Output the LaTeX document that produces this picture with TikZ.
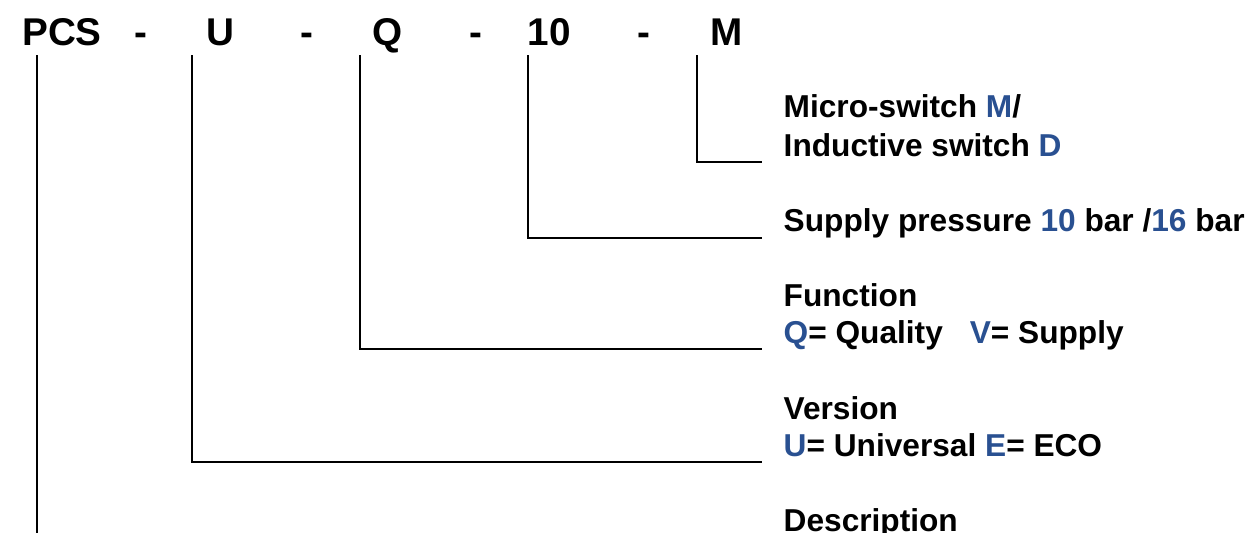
\documentclass[tikz,border=0pt]{standalone}
\usepackage{fontspec}
\setmainfont{Liberation Sans}
\definecolor{codeblue}{RGB}{41,80,145}
\begin{document}
\begin{tikzpicture}[x=0.01cm,y=-0.01cm,
  code/.style={anchor=base,inner sep=0,font=\fontsize{11}{13}\selectfont\bfseries},
  lbl/.style={anchor=base west,inner sep=0,font=\fontsize{9}{11}\selectfont\bfseries},
  conn/.style={line width=0.6pt}]
\useasboundingbox (0,0) rectangle (1252,532);
% code row
\node[code] (pcs) at (62,45) {PCS};
\node[code] (d1) at (141,45) {-};
\node[code] (u) at (220,45) {U};
\node[code] (d2) at (307,45) {-};
\node[code] (q) at (388,45) {Q};
\node[code] (d3) at (476,45) {-};
\node[code] (ten) at (549,45) {10};
\node[code] (d4) at (644,45) {-};
\node[code] (m) at (727,45) {M};
% labels
\node[lbl] (l1a) at (783,117) {Micro-switch \textcolor{codeblue}{M}/};
\node[lbl] (l1b) at (783,156) {Inductive switch \textcolor{codeblue}{D}};
\node[lbl] (l2) at (783,231) {Supply pressure \textcolor{codeblue}{10} bar /\textcolor{codeblue}{16} bar};
\node[lbl] (l3a) at (783,306) {Function};
\node[lbl] (l3b) at (783,343) {\textcolor{codeblue}{Q}= Quality\hspace{0.85em}\textcolor{codeblue}{V}= Supply};
\node[lbl] (l4a) at (783,419) {Version};
\node[lbl] (l4b) at (783,456) {\textcolor{codeblue}{U}= Universal \textcolor{codeblue}{E}= ECO};
\node[lbl] (l5a) at (783,531) {Description};
% connector coordinates
\coordinate (t1) at (37,55);
\coordinate (b1) at (37,540);
\coordinate (t2) at (192,55);
\coordinate (c2) at (192,462);
\coordinate (e2) at (762,462);
\coordinate (t3) at (360,55);
\coordinate (c3) at (360,349);
\coordinate (e3) at (762,349);
\coordinate (t4) at (528,55);
\coordinate (c4) at (528,238);
\coordinate (e4) at (762,238);
\coordinate (t5) at (697,55);
\coordinate (c5) at (697,162);
\coordinate (e5) at (762,162);
\draw[conn] (t1) -- (b1);
\draw[conn] (t2) -- (c2) -- (e2);
\draw[conn] (t3) -- (c3) -- (e3);
\draw[conn] (t4) -- (c4) -- (e4);
\draw[conn] (t5) -- (c5) -- (e5);
\end{tikzpicture}
\end{document}
